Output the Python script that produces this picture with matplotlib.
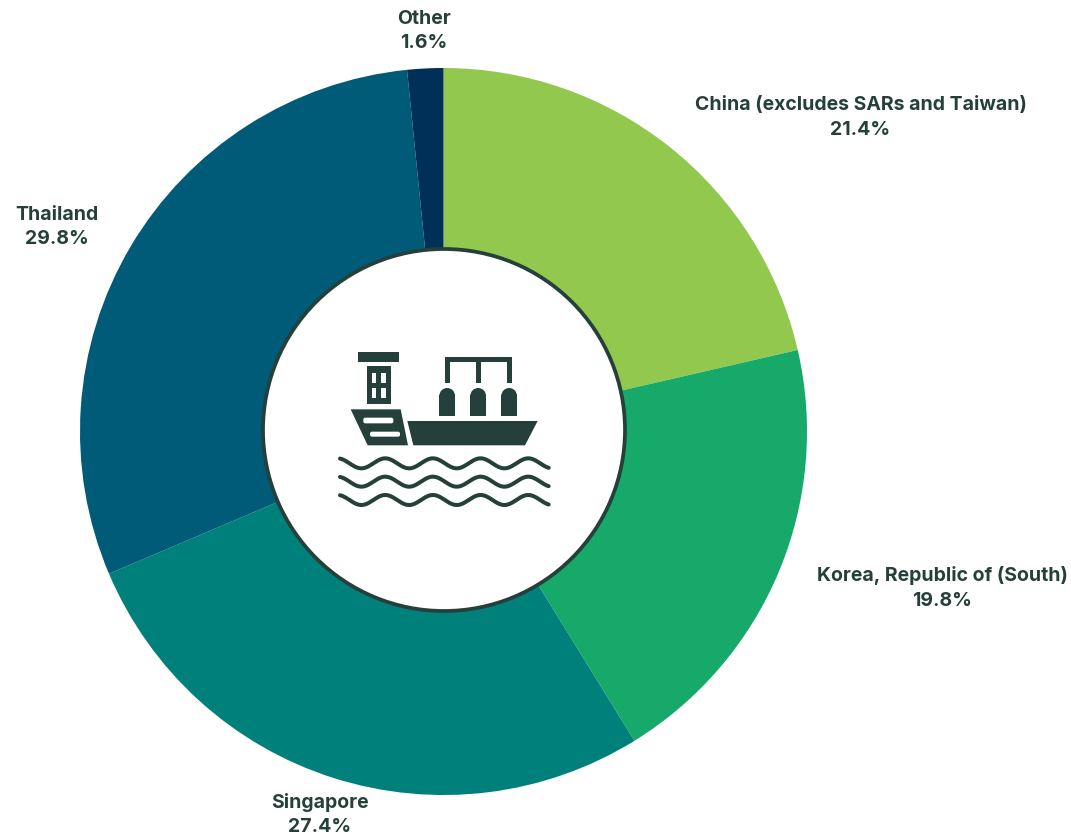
import numpy as np
import matplotlib
matplotlib.use("Agg")
import matplotlib.pyplot as plt
from matplotlib.patches import Circle, Polygon, Rectangle, FancyBboxPatch, Wedge

W, H = 1071, 838
INK = "#25403A"

# Share of imports by origin
countries = ["China (excludes SARs and Taiwan)", "Korea, Republic of (South)",
             "Singapore", "Thailand", "Other"]
shares = [21.4, 19.8, 27.4, 29.8, 1.6]
colors = ["#92C84E", "#17A96A", "#00807A", "#005B78", "#003057"]

# Label anchor for each country, in figure pixels
label_xy = [(860.5, 117.5), (942, 588), (320, 814.5), (57, 227), (424, 31)]

fig = plt.figure(figsize=(W / 100, H / 100), dpi=100, facecolor="white")

# Donut
cx, cy, r = 443.5, 431.5, 363.5
ax = fig.add_axes([(cx - r) / W, 1 - (cy + r) / H, 2 * r / W, 2 * r / H])
ax.pie(shares, colors=colors, startangle=90, counterclock=False, radius=1,
       wedgeprops={"linewidth": 0})
ax.set_xlim(-1, 1)
ax.set_ylim(-1, 1)
ax.set_aspect("equal")

# Overlay in pixel coordinates for the centre disc, ship icon and labels
ov = fig.add_axes([0, 0, 1, 1])
ov.set_xlim(0, W)
ov.set_ylim(H, 0)
ov.axis("off")
ov.patch.set_alpha(0)

ov.add_patch(Circle((444, 430), 181, facecolor="white", edgecolor=INK, linewidth=2.7))


def zx(v):
    return 320 + v / 3


def zy(v):
    return 330 + v / 3


def rect(x0, y0, x1, y1, color=INK):
    ov.add_patch(Rectangle((zx(x0), zy(y0)), (x1 - x0) / 3, (y1 - y0) / 3,
                           facecolor=color, edgecolor="none"))


def poly(points, color=INK):
    ov.add_patch(Polygon([(zx(a), zy(b)) for a, b in points], closed=True,
                         facecolor=color, edgecolor="none"))


# Funnel cap and cabin
rect(113, 67, 238, 95)
rect(140, 108, 212, 223)
for wx in (155, 183):
    for wy in (130, 175):
        rect(wx, wy, wx + 14, wy + 30, "white")

# Stern and main hull
poly([(92, 238), (242, 238), (264, 346), (143, 346)])
poly([(262, 273), (653, 273), (615, 346), (280, 346)])
for x0, y0, x1, y1 in [(130, 263, 220, 280), (150, 305, 240, 320)]:
    ov.add_patch(FancyBboxPatch((zx(x0) + 2, zy(y0) + 2), (x1 - x0) / 3 - 4, (y1 - y0) / 3 - 4,
                                boxstyle="round,pad=2", facecolor="white", edgecolor="none"))

# Cargo tanks with the overhead pipework
for x0 in (358, 451, 544):
    rad = 23.5
    mid = x0 + rad
    ov.add_patch(Wedge((zx(mid), zy(174 + rad)), rad / 3, 180, 360, facecolor=INK, edgecolor="none"))
    rect(x0, 174 + rad - 3, x0 + 47, 258)
rect(375, 80, 575, 95)
for x0 in (375, 467, 560):
    rect(x0, 80, x0 + 15, 160)

# Waves beneath the ship
for base in (400, 455, 510):
    t = np.linspace(60, 686, 300)
    wave = base - 15 * np.sin((t - 160) / 143 * 2 * np.pi)
    ov.plot(zx(t), zy(wave), color=INK, lw=2.9, solid_capstyle="round")

# Country labels with their shares
for name, share, (x, y) in zip(countries, shares, label_xy):
    ov.text(x, y, f"{name}\n{share}%", ha="center", va="center", fontsize=14,
            family="Inter", fontweight="bold", color=INK, linespacing=1.48)

fig.savefig("out.png", dpi=100, facecolor="white")
